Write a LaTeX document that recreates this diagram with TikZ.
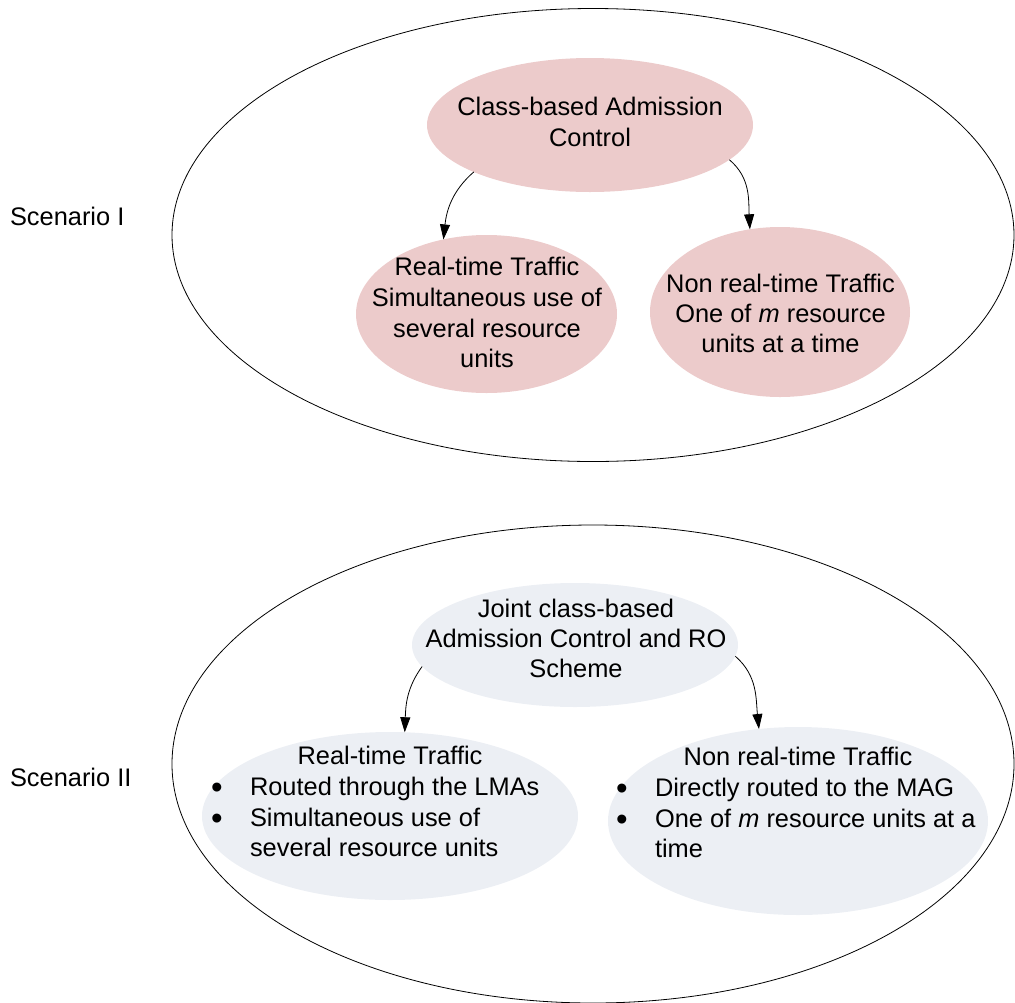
\documentclass[tikz,border=0pt]{standalone}
\usepackage{fontspec}
\setmainfont{Liberation Sans}
\usetikzlibrary{shapes.geometric,arrows.meta}
\definecolor{rosefill}{RGB}{236,203,203}
\definecolor{mistfill}{RGB}{236,239,244}

\begin{document}
\begin{tikzpicture}[x=1pt,y=1pt,
  every node/.style={font=\fontsize{25.4}{30.5}\selectfont, inner sep=0pt, outer sep=0pt},
  group/.style={ellipse, draw=black, line width=0.8pt},
  bubble/.style={ellipse, draw=none},
  rose/.style={bubble, fill=rosefill},
  mist/.style={bubble, fill=mistfill},
  txt/.style={anchor=base},
  txtl/.style={anchor=base west},
  dot/.style={anchor=base, font=\fontsize{33}{33}\selectfont},
  flow/.style={-{Triangle[length=15pt,width=10pt]}, line width=0.8pt},
]
\path[use as bounding box, clip] (0,0) rectangle (1015,-1002);

% the two scenario outlines
\node[group, minimum width=842pt, minimum height=453pt] (scenA) at (593,-235) {};
\node[group, minimum width=842pt, minimum height=478pt] (scenB) at (593,-764) {};

% scenario I bubbles
\node[rose, minimum width=326pt, minimum height=134pt] (cac)  at (590,-125) {};
\node[rose, minimum width=261pt, minimum height=158pt] (rtA)  at (486.5,-314) {};
\node[rose, minimum width=260pt, minimum height=170pt] (nrtA) at (780,-312) {};

% scenario II bubbles
\node[mist, minimum width=326pt, minimum height=124pt] (joint) at (575,-645) {};
\node[mist, minimum width=376pt, minimum height=168pt] (rtB)   at (390,-816) {};
\node[mist, minimum width=380pt, minimum height=188pt] (nrtB)  at (798,-821) {};

% side labels
\node[txtl] (labA) at (10,-225) {Scenario I};
\node[txtl] (labB) at (10,-786) {Scenario II};

% scenario I texts
\node[txt] (cacL1) at (590,-115) {Class-based Admission};
\node[txt] (cacL2) at (590,-146) {Control};

\node[txt] (rtAL1) at (487,-275) {Real-time Traffic};
\node[txt] (rtAL2) at (487,-306) {Simultaneous use of};
\node[txt] (rtAL3) at (487,-337) {several resource};
\node[txt] (rtAL4) at (487,-367) {units};

\node[txt] (nrtAL1) at (780.5,-292) {Non real-time Traffic};
\node[txt] (nrtAL2) at (780.5,-322) {One of \textit{m} resource};
\node[txt] (nrtAL3) at (780.5,-352) {units at a time};

% scenario II texts
\node[txt] (jointL1) at (576,-617) {Joint class-based};
\node[txt] (jointL2) at (576,-647) {Admission Control and RO};
\node[txt] (jointL3) at (576,-677) {Scheme};

\node[txt]  (rtBL1) at (390,-764) {Real-time Traffic};
\node[dot]  (rtBB1) at (217,-798) {\textbullet};
\node[txtl] (rtBL2) at (250,-795) {Routed through the LMAs};
\node[dot]  (rtBB2) at (217,-829) {\textbullet};
\node[txtl] (rtBL3) at (250,-826) {Simultaneous use of};
\node[txtl] (rtBL4) at (250,-856) {several resource units};

\node[txt]  (nrtBL1) at (798,-765) {Non real-time Traffic};
\node[dot]  (nrtBB1) at (622,-799) {\textbullet};
\node[txtl] (nrtBL2) at (655,-796) {Directly routed to the MAG};
\node[dot]  (nrtBB2) at (622,-830) {\textbullet};
\node[txtl] (nrtBL3) at (655,-827) {One of \textit{m} resource units at a};
\node[txtl] (nrtBL4) at (655,-857) {time};

% connectors
\draw[flow] (cac.202) to[out=221, in=84] (rtA.120);
\draw[flow] (cac.-14) to[out=-40, in=93] (nrtA.110);
\draw[flow] (joint.188) to[out=234, in=88] (rtB.80);
\draw[flow] (joint.-4) to[out=-41, in=96] (nrtB.113);
\end{tikzpicture}
\end{document}
